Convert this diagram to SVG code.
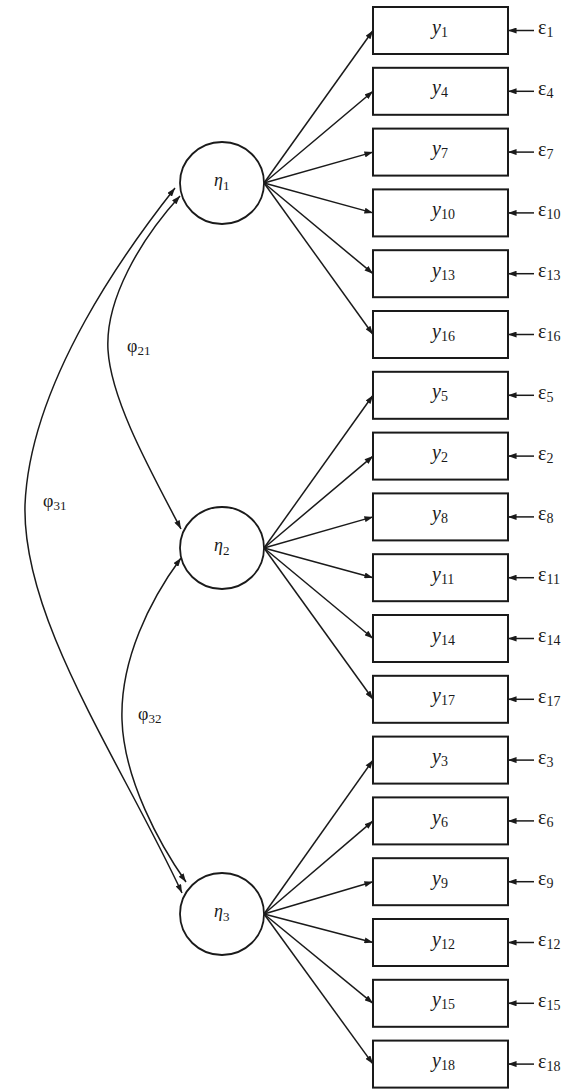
<svg xmlns="http://www.w3.org/2000/svg" width="576" height="1089" viewBox="0 0 576 1089">
<style>
.box{fill:#fff;stroke:#1a1a1a;stroke-width:2}
.lat{fill:#fff;stroke:#1a1a1a;stroke-width:1.8}
.ln{fill:none;stroke:#1a1a1a;stroke-width:1.5}
.t{font-family:"Liberation Serif","Times New Roman",serif;font-size:20px;fill:#1a1a1a}
.e{font-family:"Liberation Serif","Times New Roman",serif;font-size:18px;fill:#1a1a1a}
.it{font-style:italic}
.sub{font-size:14px;font-style:normal}
.s2{font-size:13px;font-style:normal}
</style>
<defs>
<marker id="ah" viewBox="0 0 10 7" refX="10" refY="3.5" markerWidth="9" markerHeight="6" markerUnits="userSpaceOnUse" orient="auto-start-reverse">
<path d="M0,0 L10,3.5 L0,7 z" fill="#1a1a1a"/>
</marker>
</defs>
<rect width="576" height="1089" fill="#fff"/>
<g id="connectors">
<path class="ln" d="M180,196 C140,240 105,300 108,350 C111,400 150,470 181,529" marker-start="url(#ah)" marker-end="url(#ah)"/>
<path class="ln" d="M175,188 C130,245 30,380 25,505 C22,620 120,760 182,893" marker-start="url(#ah)" marker-end="url(#ah)"/>
<path class="ln" d="M181,558 C150,600 120,660 122,720 C124,780 160,845 186,882" marker-start="url(#ah)" marker-end="url(#ah)"/>
<g marker-end="url(#ah)" class="ln">
<line x1="264" y1="183" x2="373" y2="30.5"/>
<line x1="264" y1="183" x2="373" y2="91.3"/>
<line x1="264" y1="183" x2="373" y2="152.1"/>
<line x1="264" y1="183" x2="373" y2="212.9"/>
<line x1="264" y1="183" x2="373" y2="273.7"/>
<line x1="264" y1="183" x2="373" y2="334.5"/>
<line x1="264" y1="548" x2="373" y2="395.3"/>
<line x1="264" y1="548" x2="373" y2="456.1"/>
<line x1="264" y1="548" x2="373" y2="516.9"/>
<line x1="264" y1="548" x2="373" y2="577.7"/>
<line x1="264" y1="548" x2="373" y2="638.5"/>
<line x1="264" y1="548" x2="373" y2="699.3"/>
<line x1="264" y1="914" x2="373" y2="760.1"/>
<line x1="264" y1="914" x2="373" y2="820.9"/>
<line x1="264" y1="914" x2="373" y2="881.7"/>
<line x1="264" y1="914" x2="373" y2="942.5"/>
<line x1="264" y1="914" x2="373" y2="1003.3"/>
<line x1="264" y1="914" x2="373" y2="1064.1"/>
<line x1="534" y1="30.5" x2="508" y2="30.5"/>
<line x1="534" y1="91.3" x2="508" y2="91.3"/>
<line x1="534" y1="152.1" x2="508" y2="152.1"/>
<line x1="534" y1="212.9" x2="508" y2="212.9"/>
<line x1="534" y1="273.7" x2="508" y2="273.7"/>
<line x1="534" y1="334.5" x2="508" y2="334.5"/>
<line x1="534" y1="395.3" x2="508" y2="395.3"/>
<line x1="534" y1="456.1" x2="508" y2="456.1"/>
<line x1="534" y1="516.9" x2="508" y2="516.9"/>
<line x1="534" y1="577.7" x2="508" y2="577.7"/>
<line x1="534" y1="638.5" x2="508" y2="638.5"/>
<line x1="534" y1="699.3" x2="508" y2="699.3"/>
<line x1="534" y1="760.1" x2="508" y2="760.1"/>
<line x1="534" y1="820.9" x2="508" y2="820.9"/>
<line x1="534" y1="881.7" x2="508" y2="881.7"/>
<line x1="534" y1="942.5" x2="508" y2="942.5"/>
<line x1="534" y1="1003.3" x2="508" y2="1003.3"/>
<line x1="534" y1="1064.1" x2="508" y2="1064.1"/>
</g>
<text class="e" x="127" y="352">φ<tspan class="s2" dy="3">21</tspan></text>
<text class="e" x="43" y="507">φ<tspan class="s2" dy="3">31</tspan></text>
<text class="e" x="138" y="720">φ<tspan class="s2" dy="3">32</tspan></text>
</g>
<g id="eta1"><ellipse class="lat" cx="222" cy="183" rx="42" ry="41"/><text class="e it" x="214" y="186">η<tspan class="s2" dy="4">1</tspan></text></g>
<g id="eta2"><ellipse class="lat" cx="222" cy="548" rx="42" ry="41"/><text class="e it" x="214" y="551">η<tspan class="s2" dy="4">2</tspan></text></g>
<g id="eta3"><ellipse class="lat" cx="222" cy="914" rx="42" ry="41"/><text class="e it" x="214" y="917">η<tspan class="s2" dy="4">3</tspan></text></g>
<g id="y1"><rect class="box" x="373" y="7" width="135" height="47"/><text class="t it" x="432" y="33.5">y<tspan class="sub" dy="3">1</tspan></text><text class="t" x="538" y="34">ε<tspan class="sub" dy="3">1</tspan></text></g>
<g id="y4"><rect class="box" x="373" y="67.8" width="135" height="47"/><text class="t it" x="432" y="94.3">y<tspan class="sub" dy="3">4</tspan></text><text class="t" x="538" y="94.8">ε<tspan class="sub" dy="3">4</tspan></text></g>
<g id="y7"><rect class="box" x="373" y="128.6" width="135" height="47"/><text class="t it" x="432" y="155.1">y<tspan class="sub" dy="3">7</tspan></text><text class="t" x="538" y="155.6">ε<tspan class="sub" dy="3">7</tspan></text></g>
<g id="y10"><rect class="box" x="373" y="189.4" width="135" height="47"/><text class="t it" x="432" y="215.9">y<tspan class="sub" dy="3">10</tspan></text><text class="t" x="538" y="216.4">ε<tspan class="sub" dy="3">10</tspan></text></g>
<g id="y13"><rect class="box" x="373" y="250.2" width="135" height="47"/><text class="t it" x="432" y="276.7">y<tspan class="sub" dy="3">13</tspan></text><text class="t" x="538" y="277.2">ε<tspan class="sub" dy="3">13</tspan></text></g>
<g id="y16"><rect class="box" x="373" y="311" width="135" height="47"/><text class="t it" x="432" y="337.5">y<tspan class="sub" dy="3">16</tspan></text><text class="t" x="538" y="338">ε<tspan class="sub" dy="3">16</tspan></text></g>
<g id="y5"><rect class="box" x="373" y="371.8" width="135" height="47"/><text class="t it" x="432" y="398.3">y<tspan class="sub" dy="3">5</tspan></text><text class="t" x="538" y="398.8">ε<tspan class="sub" dy="3">5</tspan></text></g>
<g id="y2"><rect class="box" x="373" y="432.6" width="135" height="47"/><text class="t it" x="432" y="459.1">y<tspan class="sub" dy="3">2</tspan></text><text class="t" x="538" y="459.6">ε<tspan class="sub" dy="3">2</tspan></text></g>
<g id="y8"><rect class="box" x="373" y="493.4" width="135" height="47"/><text class="t it" x="432" y="519.9">y<tspan class="sub" dy="3">8</tspan></text><text class="t" x="538" y="520.4">ε<tspan class="sub" dy="3">8</tspan></text></g>
<g id="y11"><rect class="box" x="373" y="554.2" width="135" height="47"/><text class="t it" x="432" y="580.7">y<tspan class="sub" dy="3">11</tspan></text><text class="t" x="538" y="581.2">ε<tspan class="sub" dy="3">11</tspan></text></g>
<g id="y14"><rect class="box" x="373" y="615" width="135" height="47"/><text class="t it" x="432" y="641.5">y<tspan class="sub" dy="3">14</tspan></text><text class="t" x="538" y="642">ε<tspan class="sub" dy="3">14</tspan></text></g>
<g id="y17"><rect class="box" x="373" y="675.8" width="135" height="47"/><text class="t it" x="432" y="702.3">y<tspan class="sub" dy="3">17</tspan></text><text class="t" x="538" y="702.8">ε<tspan class="sub" dy="3">17</tspan></text></g>
<g id="y3"><rect class="box" x="373" y="736.6" width="135" height="47"/><text class="t it" x="432" y="763.1">y<tspan class="sub" dy="3">3</tspan></text><text class="t" x="538" y="763.6">ε<tspan class="sub" dy="3">3</tspan></text></g>
<g id="y6"><rect class="box" x="373" y="797.4" width="135" height="47"/><text class="t it" x="432" y="823.9">y<tspan class="sub" dy="3">6</tspan></text><text class="t" x="538" y="824.4">ε<tspan class="sub" dy="3">6</tspan></text></g>
<g id="y9"><rect class="box" x="373" y="858.2" width="135" height="47"/><text class="t it" x="432" y="884.7">y<tspan class="sub" dy="3">9</tspan></text><text class="t" x="538" y="885.2">ε<tspan class="sub" dy="3">9</tspan></text></g>
<g id="y12"><rect class="box" x="373" y="919" width="135" height="47"/><text class="t it" x="432" y="945.5">y<tspan class="sub" dy="3">12</tspan></text><text class="t" x="538" y="946">ε<tspan class="sub" dy="3">12</tspan></text></g>
<g id="y15"><rect class="box" x="373" y="979.8" width="135" height="47"/><text class="t it" x="432" y="1006.3">y<tspan class="sub" dy="3">15</tspan></text><text class="t" x="538" y="1006.8">ε<tspan class="sub" dy="3">15</tspan></text></g>
<g id="y18"><rect class="box" x="373" y="1040.6" width="135" height="47"/><text class="t it" x="432" y="1067.1">y<tspan class="sub" dy="3">18</tspan></text><text class="t" x="538" y="1067.6">ε<tspan class="sub" dy="3">18</tspan></text></g>
</svg>
